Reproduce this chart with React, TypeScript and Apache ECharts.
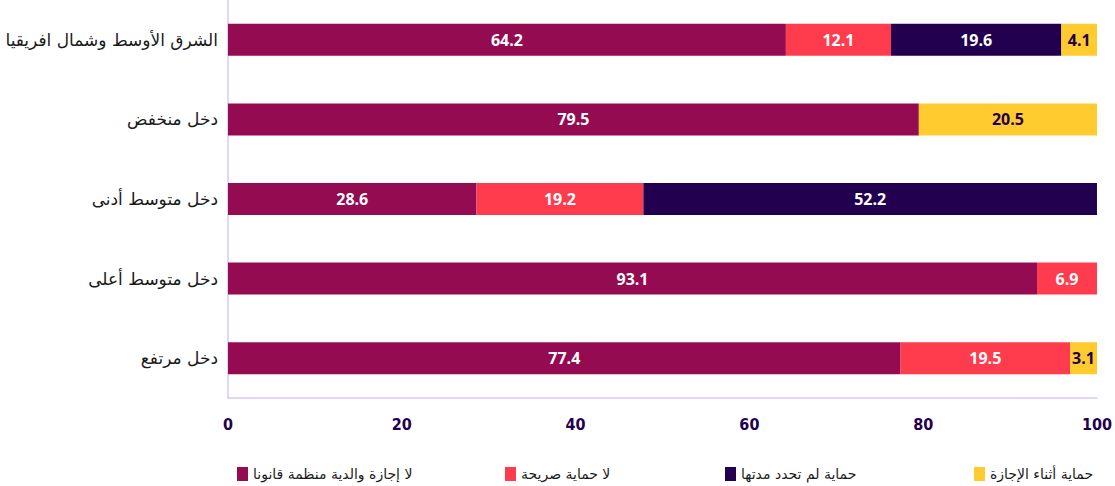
import React, { useEffect, useRef } from "react";
import * as echarts from "echarts";

const categories = [
  "الشرق الأوسط وشمال افريقيا",
  "دخل منخفض",
  "دخل متوسط أدنى",
  "دخل متوسط أعلى",
  "دخل مرتفع",
];
const seriesNames = [
  "لا إجازة والدية منظمة قانونا",
  "لا حماية صريحة",
  "حماية لم تحدد مدتها",
  "حماية أثناء الإجازة",
];
const noLeave = [64.2, 79.5, 28.6, 93.1, 77.4];
const noProtection = [12.1, 0, 19.2, 6.9, 19.5];
const unspecified = [19.6, 0, 52.2, 0, 0];
const duringLeave = [4.1, 20.5, 0, 0, 3.1];
const xTicks = [0, 20, 40, 60, 80, 100];

const colors = ["#950B52", "#FF3B4E", "#22004F", "#FFCB2E"];
const labelColors = ["#ffffff", "#ffffff", "#ffffff", "#22004F"];
const legendLefts = [232, 500, 720, 969];

export default function App() {
  const ref = useRef<HTMLDivElement>(null);
  useEffect(() => {
    if (!ref.current) return;
    const chart = echarts.init(ref.current, null, { renderer: "svg" });
    const values = [noLeave, noProtection, unspecified, duringLeave];
    chart.setOption({
      animation: false,
      grid: { left: 228, right: 18, top: 0, bottom: 88 },
      xAxis: {
        type: "value",
        min: xTicks[0],
        max: xTicks[xTicks.length - 1],
        interval: 20,
        splitLine: { show: false },
        axisTick: { show: false },
        axisLine: { show: true, lineStyle: { color: "#D8C8F8", width: 1.5 } },
        axisLabel: {
          color: "#22004F",
          fontSize: 16,
          fontWeight: "bold",
          fontFamily: "DejaVu Sans Condensed",
          margin: 18,
        },
      },
      yAxis: {
        type: "category",
        inverse: true,
        data: categories,
        axisTick: { show: false },
        axisLine: { show: true, lineStyle: { color: "#D8C8F8", width: 1.5 } },
        axisLabel: {
          color: "#1a1a1a",
          fontSize: 17,
          fontFamily: "DejaVu Sans",
          margin: 10,
        },
      },
      legend: seriesNames.map((n, i) => ({
        data: [n],
        left: legendLefts[i],
        top: 462,
        icon: "rect",
        itemWidth: 11,
        itemHeight: 14,
        itemGap: 0,
        selectedMode: false,
        textStyle: { color: "#1a1a1a", fontSize: 14, fontFamily: "DejaVu Sans" },
      })),
      series: seriesNames.map((n, i) => ({
        name: n,
        type: "bar",
        stack: "total",
        barWidth: 32,
        data: values[i],
        itemStyle: { color: colors[i] },
        label: {
          show: true,
          position: "inside",
          color: labelColors[i],
          fontSize: 16,
          fontWeight: "bold",
          fontFamily: "Open Sans",
          formatter: (p: any) => (p.value > 0 ? p.value.toFixed(1) : ""),
        },
      })),
    });
    return () => chart.dispose();
  }, []);
  return (
    <div
      ref={ref}
      style={{ position: "fixed", left: 0, top: 0, width: 1115, height: 486, background: "#fff" }}
    />
  );
}
